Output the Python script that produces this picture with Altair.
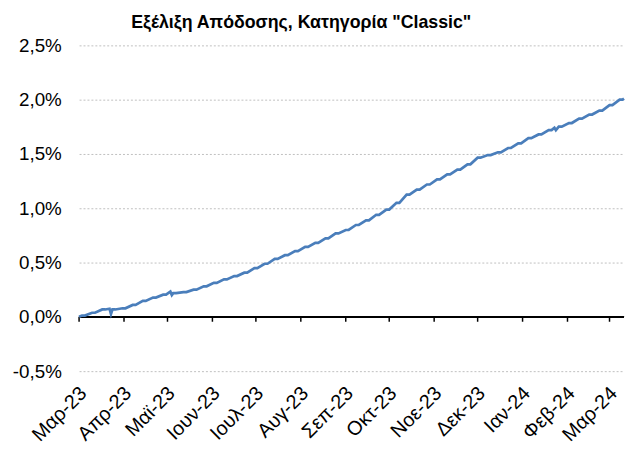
import altair as alt
import pandas as pd

# Weekly (Friday) values of the cumulative return, in %
friday_start = "2023-03-03"
weekly_values = [
    0.012, 0.038, 0.068, 0.068, 0.079, 0.110, 0.147, 0.178, 0.204, 0.218,
    0.228, 0.250, 0.281, 0.313, 0.345, 0.376, 0.407, 0.449, 0.489, 0.534,
    0.568, 0.605, 0.644, 0.682, 0.722, 0.768, 0.800, 0.846, 0.888, 0.940,
    0.988, 1.050, 1.125, 1.172, 1.219, 1.266, 1.312, 1.356, 1.405, 1.466,
    1.490, 1.515, 1.555, 1.597, 1.645, 1.680, 1.720, 1.752, 1.785, 1.825,
    1.863, 1.900, 1.950, 2.000,
]
# Extra mid-week readings (start, dips, end)
extra_dates = ["2023-03-01", "2023-03-22", "2023-03-23", "2023-05-03", "2023-05-04",
               "2024-01-23", "2024-01-24", "2024-03-11"]
extra_values = [0.0, 0.075, 0.027, 0.232, 0.200, 1.742, 1.720, 2.010]

month_ticks = ["2023-03-01", "2023-04-01", "2023-05-01", "2023-06-01", "2023-07-01",
               "2023-08-01", "2023-09-01", "2023-10-01", "2023-11-01", "2023-12-01",
               "2024-01-01", "2024-02-01", "2024-03-01"]
month_labels = ["Μαρ-23", "Απρ-23", "Μαϊ-23", "Ιουν-23", "Ιουλ-23", "Αυγ-23", "Σεπ-23",
                "Οκτ-23", "Νοε-23", "Δεκ-23", "Ιαν-24", "Φεβ-24", "Μαρ-24"]
y_ticks = [-0.5, 0.0, 0.5, 1.0, 1.5, 2.0, 2.5]
title_text = 'Εξέλιξη Απόδοσης, Κατηγορία "Classic"'

# Build table: weekend keeps Friday's value (no trading)
rows = []
fridays = pd.date_range(friday_start, periods=len(weekly_values), freq="7D")
for d, v in zip(fridays, weekly_values):
    rows.append((d, v))
    rows.append((d + pd.Timedelta(days=2), v))
for d, v in zip(extra_dates, extra_values):
    rows.append((pd.Timestamp(d), v))
df = pd.DataFrame(rows, columns=["date", "value"]).sort_values("date")
df["date"] = df["date"].dt.strftime("%Y-%m-%d")

ticks_df = pd.DataFrame({"date": month_ticks})
tick_ms = [int(pd.Timestamp(d).timestamp() * 1000) for d in month_ticks]

label_array = "[" + ",".join("'" + s + "'" for s in month_labels) + "]"
x_label_expr = label_array + "[(utcyear(datum.value)-2023)*12 + utcmonth(datum.value) - 2]"
y_label_expr = "(datum.value < 0 ? '-' : '') + replace(format(abs(datum.value), '.1f'), '.', ',') + '%'"

x_scale = alt.Scale(type="utc", domain=[extra_dates[0], extra_dates[-1]], nice=False)
y_scale = alt.Scale(domain=[y_ticks[0], y_ticks[-1]], nice=False, zero=False)

FONT = "Liberation Sans"

line = alt.Chart(df).mark_line(color="#4A7EBB", strokeWidth=2.75).encode(
    x=alt.X("date:T", scale=x_scale,
            axis=alt.Axis(values=tick_ms, labelExpr=x_label_expr, labelAngle=-45,
                          labelAlign="right", labelBaseline="middle",
                          labelPadding=19, labelOffset=4, labelFont=FONT,
                          labelFontSize=20, labelColor="black", domain=False,
                          ticks=False, grid=False, title=None, labelOverlap=False)),
    y=alt.Y("value:Q", scale=y_scale,
            axis=alt.Axis(values=y_ticks, labelExpr=y_label_expr, labelFont=FONT,
                          labelFontSize=19, labelColor="black", labelPadding=18,
                          domain=False, ticks=False, grid=True, gridColor="#BFBFBF",
                          gridDash=[2, 2], gridWidth=1, title=None)),
)

zero_line = alt.Chart(ticks_df).mark_rule(color="black", strokeWidth=1.5).encode(
    y=alt.datum(0)
)

tick_marks = alt.Chart(ticks_df).mark_rule(color="black", strokeWidth=1.5).encode(
    x=alt.X("date:T", scale=x_scale),
    y=alt.datum(0),
    y2=alt.datum(-0.045),
)

chart = alt.layer(zero_line, tick_marks, line).properties(
    width=552,
    height=330,
    autosize="none",
    padding={"left": 72, "top": 35, "right": 1, "bottom": 77},
    title=alt.Title(title_text, font=FONT, fontSize=18, fontWeight="bold",
                    color="black", anchor="middle", dx=-51, offset=5),
).configure_view(stroke=None)

chart.save("out.html", embed_options={"renderer": "svg", "actions": False})
